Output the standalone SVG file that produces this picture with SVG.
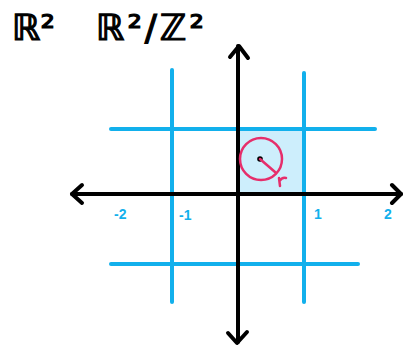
<svg xmlns="http://www.w3.org/2000/svg" width="403" height="352" viewBox="0 0 403 352">
<style>
.grid{stroke:#12b0ec;stroke-width:4;stroke-linecap:round;fill:none}
.axis{stroke:#000;stroke-width:4;stroke-linecap:round;stroke-linejoin:round;fill:none}
.lbl{font-family:"Liberation Sans",sans-serif;font-size:14px;fill:#12b0ec;font-weight:bold}
.title{font-family:"DejaVu Sans",sans-serif;font-size:36px;fill:#000;stroke:#000;stroke-width:1.2}
.pink{stroke:#e62e6b;stroke-width:2.5;fill:none;stroke-linecap:round}
</style>
<rect width="403" height="352" fill="#fff"/>
<g id="titles">
<text class="title" x="12" y="40">ℝ²</text>
<text class="title" x="96" y="40" textLength="108">ℝ²/ℤ²</text>
</g>
<g id="cell"><rect x="238" y="129" width="66" height="65" fill="#cdeefc"/></g>
<g id="grid">
<line class="grid" x1="172" y1="70" x2="172" y2="302"/>
<line class="grid" x1="304" y1="73" x2="304" y2="302"/>
<line class="grid" x1="111" y1="129" x2="375" y2="129"/>
<line class="grid" x1="111" y1="264" x2="358" y2="264"/>
</g>
<g id="axes">
<line class="axis" x1="72" y1="194" x2="401" y2="194"/>
<polyline class="axis" points="82,185 72,194 82,203"/>
<polyline class="axis" points="392,185 401,194 392,203"/>
<line class="axis" x1="238" y1="46" x2="238" y2="342"/>
<polyline class="axis" points="230,57 239,46 248,58"/>
<polyline class="axis" points="228,333 237,343 247,332"/>
</g>
<g id="circle">
<circle class="pink" cx="261" cy="159" r="21"/>
<circle cx="260" cy="159" r="2.8" fill="#000"/>
<line class="pink" x1="260" y1="159" x2="275" y2="172"/>
<path class="pink" d="M279,178 L280,186 M279.5,181 Q282,177 286,178"/>
</g>
<g id="labels">
<text class="lbl" x="114" y="219">-2</text>
<text class="lbl" x="179" y="220">-1</text>
<text class="lbl" x="314" y="219">1</text>
<text class="lbl" x="384" y="219">2</text>
</g>
</svg>
